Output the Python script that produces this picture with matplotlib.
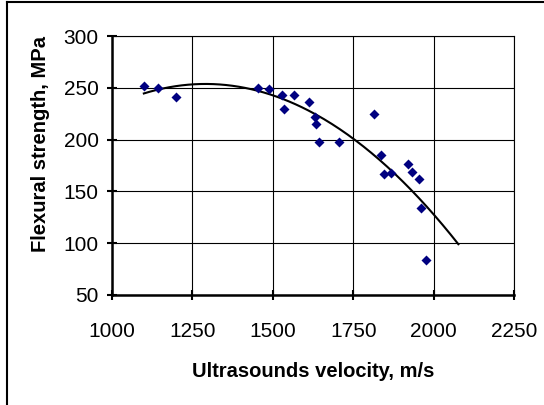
import numpy as np
import matplotlib
matplotlib.use('Agg')
import matplotlib.pyplot as plt
from matplotlib.lines import Line2D

plt.rcParams['font.family'] = ['Liberation Sans', 'DejaVu Sans']

# Ultrasounds velocity (m/s) and flexural strength (MPa)
velocity = [1099, 1144, 1199, 1455, 1487, 1530, 1536, 1566, 1614, 1630,
            1633, 1645, 1706, 1816, 1835, 1846, 1866, 1921, 1934, 1954,
            1961, 1977]
strength = [252, 250, 241, 250, 249, 243, 230, 243, 236, 222,
            215.5, 197.5, 197.5, 224.5, 185, 166.5, 168, 176.5, 168.5, 162,
            134, 83.5]
x_ticks = [1000, 1250, 1500, 1750, 2000, 2250]
y_ticks = [50, 100, 150, 200, 250, 300]
forecast = 100  # trendline forward forecast

fig = plt.figure(figsize=(5.44, 4.05), dpi=100)
ax = fig.add_axes([112 / 544, 1 - 295 / 405, (514 - 112) / 544, (295 - 36) / 405])

# polynomial (2nd order) trendline
coef = np.polyfit(velocity, strength, 2)
xt = np.linspace(min(velocity), max(velocity) + forecast, 200)
ax.plot(xt, np.polyval(coef, xt), color='black', lw=1.5, zorder=3)

ax.plot(velocity, strength, linestyle='none', marker='D', ms=4.6,
        color='#000080', mec='none', zorder=4)

ax.set_xlim(1000, 2250)
ax.set_ylim(50, 300)
ax.set_xticks(x_ticks)
ax.set_yticks(y_ticks)
ax.grid(True, color='black', lw=0.8)
ax.set_axisbelow(True)
for s in ['top', 'right']:
    ax.spines[s].set_linewidth(0.8)
for s in ['left', 'bottom']:
    ax.spines[s].set_linewidth(1.8)
ax.tick_params(direction='inout', length=7, width=1.5, labelsize=15)
ax.tick_params(axis='x', pad=16)
ax.tick_params(axis='y', pad=6)

ax.set_xlabel('Ultrasounds velocity, m/s', fontsize=14.5, fontweight='bold', labelpad=15)
ax.set_ylabel('Flexural strength, MPa', fontsize=14.5, fontweight='bold')
ax.yaxis.set_label_coords(-0.155, 0.583)

# chart border (only top and left visible)
fig.add_artist(Line2D([7 / 544, 7 / 544], [0, 1 - 2 / 405], color='black', lw=1.5,
                      transform=fig.transFigure))
fig.add_artist(Line2D([7 / 544, 1], [1 - 2 / 405, 1 - 2 / 405], color='black', lw=1.5,
                      transform=fig.transFigure))

fig.savefig('out.png', dpi=100)
